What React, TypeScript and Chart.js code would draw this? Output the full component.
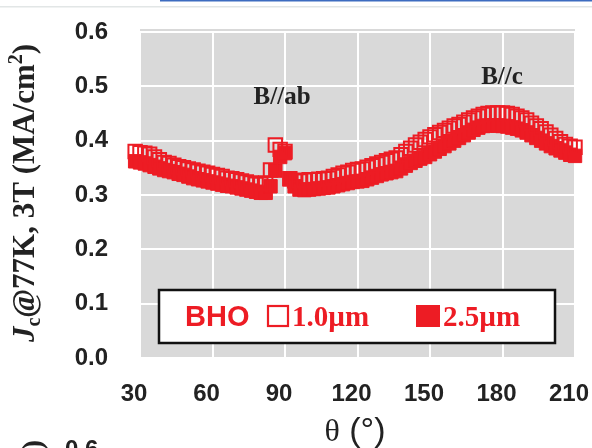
import React, { useEffect, useRef } from "react";
import { Chart, registerables } from "chart.js";

Chart.register(...registerables);

// ---- data ----
const thetaDeg = [
  28, 30, 32, 34, 36, 38, 40, 42, 44, 46, 48, 50, 52, 54, 56, 58, 60, 62, 64, 66,
  68, 70, 72, 74, 76, 78, 80, 82, 84, 86, 88, 90, 92, 94, 96, 98, 100, 102, 104, 106,
  108, 110, 112, 114, 116, 118, 120, 122, 124, 126, 128, 130, 132, 134, 136, 138, 140, 142, 144, 146,
  148, 150, 152, 154, 156, 158, 160, 162, 164, 166, 168, 170, 172, 174, 176, 178, 180, 182, 184, 186,
  188, 190, 192, 194, 196, 198, 200, 202, 204, 206, 208, 210,
];

// 1.0 µm film (open squares)
const jc10 = [
  0.380, 0.378, 0.377, 0.375, 0.370, 0.365, 0.360, 0.358, 0.355, 0.352, 0.350, 0.348, 0.346, 0.344, 0.342, 0.340, 0.338, 0.336, 0.334, 0.331,
  0.330, 0.328, 0.326, 0.324, 0.322, 0.320, 0.320, 0.322, 0.346, 0.392, 0.384, 0.380, 0.330, 0.326, 0.326, 0.327, 0.328, 0.328, 0.329, 0.330,
  0.331, 0.334, 0.337, 0.340, 0.342, 0.345, 0.347, 0.348, 0.351, 0.354, 0.357, 0.360, 0.363, 0.366, 0.368, 0.374, 0.380, 0.386, 0.392, 0.397,
  0.402, 0.407, 0.411, 0.415, 0.419, 0.423, 0.427, 0.430, 0.434, 0.438, 0.442, 0.445, 0.448, 0.450, 0.451, 0.451, 0.451, 0.450, 0.448, 0.445,
  0.442, 0.438, 0.432, 0.427, 0.422, 0.416, 0.410, 0.404, 0.398, 0.393, 0.390, 0.388,
];

// 2.5 µm film (filled squares)
const jc25 = [
  0.362, 0.360, 0.358, 0.355, 0.352, 0.349, 0.346, 0.344, 0.342, 0.339, 0.337, 0.334, 0.331, 0.329, 0.327, 0.325, 0.323, 0.321, 0.319, 0.317,
  0.316, 0.314, 0.312, 0.310, 0.308, 0.306, 0.304, 0.304, 0.316, 0.345, 0.370, 0.377, 0.329, 0.316, 0.310, 0.309, 0.310, 0.311, 0.312, 0.313,
  0.314, 0.316, 0.318, 0.320, 0.322, 0.324, 0.325, 0.326, 0.329, 0.332, 0.335, 0.338, 0.340, 0.342, 0.344, 0.349, 0.354, 0.359, 0.363, 0.367,
  0.370, 0.375, 0.380, 0.385, 0.390, 0.395, 0.400, 0.405, 0.410, 0.415, 0.420, 0.424, 0.427, 0.428, 0.428, 0.428, 0.427, 0.426, 0.424, 0.422,
  0.419, 0.415, 0.410, 0.405, 0.400, 0.395, 0.390, 0.386, 0.382, 0.378, 0.374, 0.372,
];

const xTicks = [30, 60, 90, 120, 150, 180, 210];
const yTicks = [0, 0.1, 0.2, 0.3, 0.4, 0.5, 0.6];
const seriesLabels = ["1.0\u00b5m", "2.5\u00b5m"];
const legendPrefix = "BHO";
const annotationText = ["B//ab", "B//c"];
const annotationTheta = [88.8, 179.8];
const annotationJc = [0.479, 0.517];
const nextPanelTick = "0.6";

const RED = "#ed1c24";
const SANS = "'Liberation Sans', Arial, sans-serif";
const SERIF = "'Liberation Serif', 'Times New Roman', serif";

const decorPlugin = {
  id: "decor",
  beforeDraw(chart: any) {
    const { ctx, chartArea } = chart;
    ctx.save();
    ctx.fillStyle = "#d9d9d9";
    ctx.fillRect(chartArea.left, chartArea.top - 3, chartArea.right - chartArea.left, chartArea.bottom - chartArea.top + 3);
    // page decorations (cropped figure)
    ctx.fillStyle = "#3d6cc0";
    ctx.fillRect(160, 0, 432, 1.5);
    ctx.fillStyle = "#e2e6e6";
    ctx.fillRect(0, 6, 592, 1.5);
    ctx.restore();
  },
  afterDraw(chart: any) {
    const { ctx, scales } = chart;
    const xs = scales.x;
    const ys = scales.y;
    ctx.save();

    // annotations
    ctx.fillStyle = "#222";
    ctx.font = `bold 25px ${SERIF}`;
    ctx.textAlign = "center";
    ctx.textBaseline = "middle";
    annotationText.forEach((t, i) => {
      ctx.fillText(t, xs.getPixelForValue(annotationTheta[i]), ys.getPixelForValue(annotationJc[i]));
    });

    // y axis title (rotated)
    ctx.save();
    ctx.translate(34, 193);
    ctx.rotate(-Math.PI / 2);
    ctx.textBaseline = "alphabetic";
    ctx.textAlign = "left";
    const parts: [string, string, number][] = [
      ["J", `italic bold 31px ${SERIF}`, 0],
      ["c", `bold 20px ${SERIF}`, 6],
      ["@77K, 3T (MA/cm", `bold 31px ${SERIF}`, 0],
      ["2", `bold 20px ${SERIF}`, -12],
      [")", `bold 31px ${SERIF}`, 0],
    ];
    let total = 0;
    parts.forEach(([s, f]) => {
      ctx.font = f;
      total += ctx.measureText(s).width;
    });
    let px = -total / 2;
    ctx.fillStyle = "#222";
    parts.forEach(([s, f, dy]) => {
      ctx.font = f;
      ctx.fillText(s, px, dy);
      px += ctx.measureText(s).width;
    });
    ctx.restore();

    // x axis title
    ctx.textBaseline = "alphabetic";
    ctx.textAlign = "left";
    ctx.font = `32px ${SERIF}`;
    const thW = ctx.measureText("\u03b8").width;
    ctx.font = `34px ${SANS}`;
    const restW = ctx.measureText(" (\u00b0)").width;
    const startX = 355 - (thW + restW) / 2;
    ctx.fillStyle = "#222";
    ctx.font = `32px ${SERIF}`;
    ctx.fillText("\u03b8", startX, 441);
    ctx.font = `34px ${SANS}`;
    ctx.fillText(" (\u00b0)", startX + thW, 441);

    // legend box
    ctx.fillStyle = "#ffffff";
    ctx.fillRect(159, 290, 396, 53);
    ctx.strokeStyle = "#111";
    ctx.lineWidth = 2.5;
    ctx.strokeRect(159, 290, 396, 53);
    ctx.fillStyle = RED;
    ctx.font = `bold 29px ${SANS}`;
    ctx.fillText(legendPrefix, 185, 326);
    ctx.strokeStyle = RED;
    ctx.lineWidth = 2.2;
    ctx.strokeRect(268, 306, 20, 20);
    ctx.font = `bold 29px ${SERIF}`;
    ctx.fillText(seriesLabels[0], 292, 326);
    ctx.fillRect(416, 305, 24, 22);
    ctx.fillText(seriesLabels[1], 443, 326);

    // partial next panel (cropped at bottom)
    ctx.fillStyle = "#222";
    ctx.font = `bold 24px ${SANS}`;
    ctx.fillText(nextPanelTick, 65, 457);
    ctx.save();
    ctx.translate(42, 440);
    ctx.rotate(-Math.PI / 2);
    ctx.textAlign = "right";
    ctx.font = `bold 29px ${SERIF}`;
    ctx.fillText(")", 0, 0);
    ctx.restore();

    ctx.restore();
  },
};

export default function App() {
  const canvasRef = useRef<HTMLCanvasElement | null>(null);

  useEffect(() => {
    document.body.style.margin = "0";
    const canvas = canvasRef.current;
    if (!canvas) return;
    const chart = new Chart(canvas, {
      type: "scatter",
      data: {
        datasets: [
          {
            label: seriesLabels[0],
            data: thetaDeg.map((t, i) => ({ x: t, y: jc10[i] })),
            pointStyle: "rect",
            pointRadius: 9.5,
            backgroundColor: "rgba(0,0,0,0)",
            borderColor: RED,
            borderWidth: 2,
            clip: false,
          },
          {
            label: seriesLabels[1],
            data: thetaDeg.map((t, i) => ({ x: t, y: jc25[i] })),
            pointStyle: "rect",
            pointRadius: 9.5,
            backgroundColor: RED,
            borderColor: RED,
            borderWidth: 1,
            clip: false,
          },
        ],
      } as any,
      options: {
        animation: false,
        responsive: true,
        maintainAspectRatio: false,
        layout: { padding: { top: 32, right: 17, left: 0, bottom: 0 } },
        plugins: { legend: { display: false }, tooltip: { enabled: false } },
        scales: {
          x: {
            type: "linear",
            min: 30,
            max: 210,
            afterBuildTicks: (s: any) => {
              s.ticks = xTicks.map((v) => ({ value: v }));
            },
            afterFit: (s: any) => {
              s.height = 90;
              s.paddingLeft = 0;
              s.paddingRight = 0;
            },
            grid: { color: "#ffffff", lineWidth: 2, drawTicks: false },
            border: { display: false },
            ticks: {
              padding: 22,
              labelOffset: -6,
              color: "#222",
              font: { family: SANS, weight: "bold", size: 24 },
              callback: (v: any) => String(v),
            },
          },
          y: {
            type: "linear",
            min: 0,
            max: 0.6,
            afterBuildTicks: (s: any) => {
              s.ticks = yTicks.map((v) => ({ value: v }));
            },
            afterFit: (s: any) => {
              s.width = 140;
              s.paddingTop = 0;
              s.paddingBottom = 0;
            },
            grid: { color: "#ffffff", lineWidth: 2, drawTicks: false },
            border: { display: false },
            ticks: {
              padding: 32,
              color: "#222",
              font: { family: SANS, weight: "bold", size: 24 },
              callback: (v: any) => Number(v).toFixed(1),
            },
          },
        },
      } as any,
      plugins: [decorPlugin],
    });
    return () => chart.destroy();
  }, []);

  return (
    <div style={{ position: "relative", width: 592, height: 448 }}>
      <canvas ref={canvasRef} />
    </div>
  );
}
